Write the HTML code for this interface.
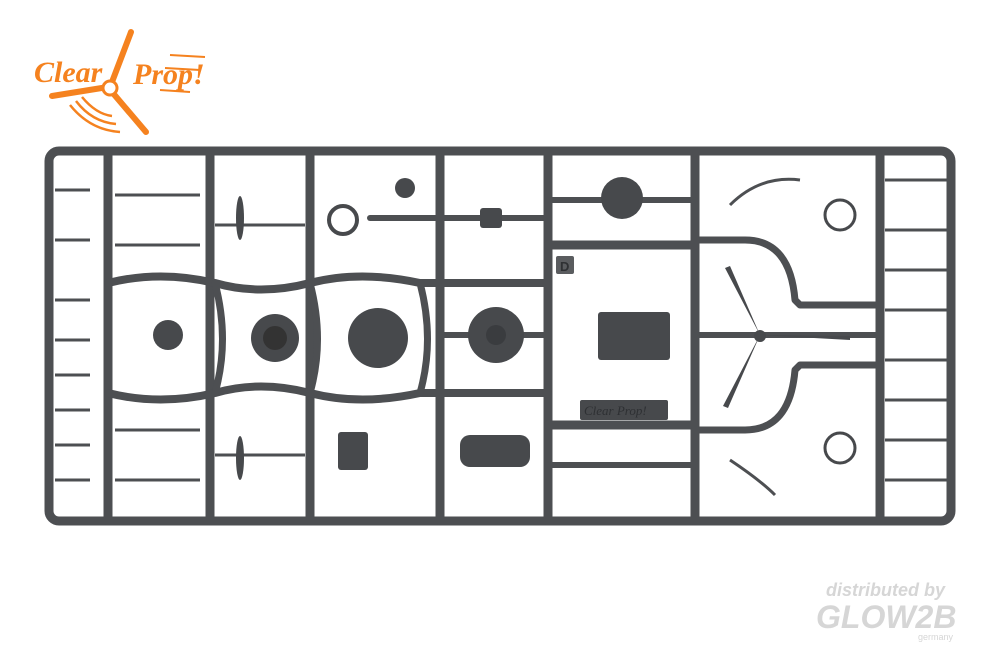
<!DOCTYPE html>
<html><head><style>
html,body{margin:0;padding:0;background:#fff;width:1000px;height:667px;overflow:hidden}
svg{display:block}
</style></head><body>
<svg width="1000" height="667" viewBox="0 0 1000 667" xmlns="http://www.w3.org/2000/svg">
<rect width="1000" height="667" fill="#fff"/>
<!-- logo -->
<g fill="#f5821f" stroke="#f5821f">
<text x="34" y="82" font-family="Liberation Serif, serif" font-style="italic" font-weight="bold" font-size="30" stroke="none">Clear</text>
<text x="133" y="84" font-family="Liberation Serif, serif" font-style="italic" font-weight="bold" font-size="30" stroke="none">Prop!</text>
<line x1="131" y1="32" x2="112" y2="82" stroke-width="6" stroke-linecap="round"/>
<line x1="108" y1="87" x2="52" y2="96" stroke-width="6" stroke-linecap="round"/>
<line x1="112" y1="92" x2="146" y2="132" stroke-width="6" stroke-linecap="round"/>
<circle cx="110" cy="88" r="7" fill="#fff" stroke-width="3"/>
<path d="M70 105 Q90 130 120 132 M76 101 Q92 122 116 124 M82 97 Q96 114 112 116" fill="none" stroke-width="2.5"/>
<path d="M170 55 L205 57 M165 68 L200 70 M160 90 L190 92" stroke-width="2"/>
</g>
<!-- sprue -->
<g fill="none" stroke="#4d4f52" stroke-width="9" stroke-linecap="round" stroke-linejoin="round">
<rect x="49" y="151" width="902" height="370" rx="10"/>
<line x1="108" y1="151" x2="108" y2="521"/>
<line x1="210" y1="151" x2="210" y2="521"/>
<line x1="310" y1="151" x2="310" y2="521"/>
<line x1="440" y1="151" x2="440" y2="521"/>
<line x1="548" y1="151" x2="548" y2="521"/>
<line x1="695" y1="151" x2="695" y2="521"/>
<line x1="880" y1="151" x2="880" y2="521"/>
<path d="M108 283 Q160 270 215 283 Q260 296 310 283 Q360 270 420 283 L548 283" stroke-width="8"/>
<path d="M108 393 Q160 406 215 393 Q260 380 310 393 Q360 406 420 393 L548 393" stroke-width="8"/>
<path d="M215 283 Q230 340 215 393 M310 283 Q325 340 310 393 M420 283 Q435 340 420 393" stroke-width="7"/>
<line x1="548" y1="245" x2="695" y2="245"/>
<line x1="548" y1="425" x2="695" y2="425"/>
<path d="M695 240 L745 240 Q790 240 795 300 L800 305 L880 305" stroke-width="7"/>
<path d="M695 430 L745 430 Q790 430 795 370 L800 365 L880 365" stroke-width="7"/>
<line x1="370" y1="218" x2="440" y2="218" stroke-width="6"/>
<line x1="440" y1="218" x2="548" y2="218" stroke-width="6"/>
<line x1="440" y1="335" x2="548" y2="335" stroke-width="6"/>
<line x1="548" y1="200" x2="695" y2="200" stroke-width="6"/>
<line x1="548" y1="465" x2="695" y2="465" stroke-width="6"/>
<line x1="695" y1="335" x2="880" y2="335" stroke-width="6"/>
</g>
<g stroke="#4d4f52" stroke-width="3" fill="none">
<line x1="55" y1="190" x2="90" y2="190"/><line x1="55" y1="240" x2="90" y2="240"/>
<line x1="55" y1="300" x2="90" y2="300"/><line x1="55" y1="340" x2="90" y2="340"/>
<line x1="55" y1="375" x2="90" y2="375"/><line x1="55" y1="410" x2="90" y2="410"/>
<line x1="55" y1="445" x2="90" y2="445"/><line x1="55" y1="480" x2="90" y2="480"/>
<line x1="115" y1="195" x2="200" y2="195"/><line x1="115" y1="245" x2="200" y2="245"/>
<line x1="115" y1="430" x2="200" y2="430"/><line x1="115" y1="480" x2="200" y2="480"/>
<line x1="215" y1="225" x2="305" y2="225"/><line x1="215" y1="455" x2="305" y2="455"/>
<line x1="885" y1="180" x2="950" y2="180"/><line x1="885" y1="230" x2="950" y2="230"/>
<line x1="885" y1="270" x2="950" y2="270"/><line x1="885" y1="310" x2="950" y2="310"/>
<line x1="885" y1="360" x2="950" y2="360"/><line x1="885" y1="400" x2="950" y2="400"/>
<line x1="885" y1="440" x2="950" y2="440"/><line x1="885" y1="480" x2="950" y2="480"/>
<path d="M730 205 Q760 175 800 180"/><path d="M730 460 Q760 480 775 495"/>
</g>
<g fill="#47494c">
<circle cx="168" cy="335" r="15"/>
<circle cx="275" cy="338" r="24"/><circle cx="275" cy="338" r="12" fill="#333"/>
<circle cx="378" cy="338" r="30"/>
<circle cx="496" cy="335" r="28"/><circle cx="496" cy="335" r="10" fill="#3a3c3f"/>
<circle cx="622" cy="198" r="21"/>
<rect x="598" y="312" width="72" height="48" rx="3"/>
<rect x="480" y="208" width="22" height="20" rx="3"/>
<circle cx="405" cy="188" r="10"/>
<circle cx="840" cy="215" r="15" fill="none" stroke="#47494c" stroke-width="3"/>
<circle cx="840" cy="448" r="15" fill="none" stroke="#47494c" stroke-width="3"/>
<circle cx="343" cy="220" r="14" fill="none" stroke="#47494c" stroke-width="4"/>
<rect x="460" y="435" width="70" height="32" rx="10"/>
<rect x="338" y="432" width="30" height="38" rx="3"/>
<rect x="580" y="400" width="88" height="20" rx="2"/>
<ellipse cx="240" cy="218" rx="4" ry="22"/><ellipse cx="240" cy="458" rx="4" ry="22"/>
<path d="M760 335 L725 268 L730 266 Z"/><path d="M760 335 L850 336 L850 340 Z"/><path d="M760 335 L728 408 L723 406 Z"/>
<circle cx="760" cy="336" r="6"/>
<rect x="556" y="256" width="18" height="18" rx="2" fill="#5a5c5f"/>
</g>
<text x="560" y="271" font-family="Liberation Sans, sans-serif" font-size="13" font-weight="bold" fill="#2e3033">D</text>
<text x="584" y="415" font-family="Liberation Serif, serif" font-style="italic" font-size="13" fill="#2e3033">Clear Prop!</text>
<!-- watermark -->
<text x="826" y="596" font-family="Liberation Sans, sans-serif" font-style="italic" font-weight="bold" font-size="18" fill="#d6d6d6">distributed by</text>
<text x="816" y="628" font-family="Liberation Sans, sans-serif" font-style="italic" font-weight="bold" font-size="32" fill="#d6d6d6">GLOW2B</text>
<text x="918" y="640" font-family="Liberation Sans, sans-serif" font-size="9" fill="#d6d6d6">germany</text>
</svg>
</body></html>
